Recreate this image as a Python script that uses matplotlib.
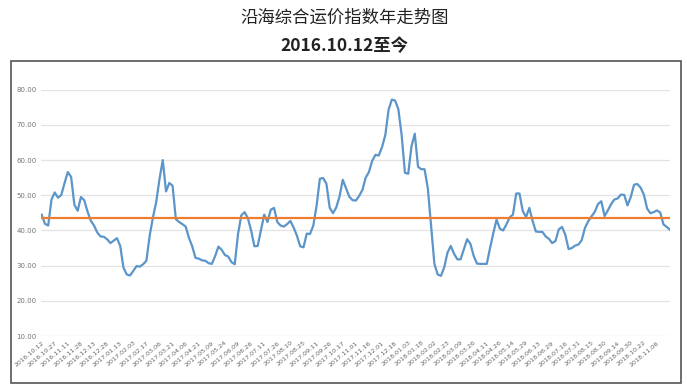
import matplotlib
matplotlib.use('Agg')
import matplotlib.pyplot as plt
from matplotlib.patches import Rectangle

plt.rcParams['font.family'] = ['Noto Sans CJK SC', 'DejaVu Sans']
plt.rcParams['axes.unicode_minus'] = False

title_1 = '沿海综合运价指数年走势图'
title_2 = '2016.10.12至今'

tick_labels = [
    '2016.10.12', '2016.10.27', '2016.11.11', '2016.11.28', '2016.12.13', '2016.12.28',
    '2017.01.13', '2017.02.03', '2017.02.17', '2017.03.06', '2017.03.21', '2017.04.06',
    '2017.04.21', '2017.05.09', '2017.05.24', '2017.06.09', '2017.06.26', '2017.07.11',
    '2017.07.26', '2017.08.10', '2017.08.25', '2017.09.11', '2017.09.26', '2017.10.17',
    '2017.11.01', '2017.11.16', '2017.12.01', '2017.12.18', '2018.01.03', '2018.01.18',
    '2018.02.02', '2018.02.23', '2018.03.09', '2018.03.26', '2018.04.11', '2018.04.26',
    '2018.05.14', '2018.05.29', '2018.06.13', '2018.06.29', '2018.07.16', '2018.07.31',
    '2018.08.15', '2018.08.30', '2018.09.14', '2018.09.30', '2018.10.22', '2018.11.06',
]

# index values, one per sample (4 samples between two tick labels)
index_2016 = [
    44.5, 41.9, 41.4, 48.8, 50.8, 49.3, 50.1, 53.5, 56.6, 55.2,
    47.3, 45.6, 49.5, 48.6, 45.4, 42.8, 41.4, 39.4, 38.3, 38.2,
    37.5, 36.4, 37.1, 37.8, 35.6,
]
index_2017 = [
    29.4, 27.5, 27.2, 28.5, 29.9, 29.7, 30.4, 31.4, 38.5, 43.7,
    48.1, 54.6, 60.0, 51.1, 53.5, 52.7, 43.2, 42.4, 41.8, 41.1,
    37.9, 35.5, 32.2, 32.0, 31.5, 31.4, 30.7, 30.5, 32.7, 35.4,
    34.5, 33.0, 32.6, 31.0, 30.4, 39.0, 44.3, 45.2, 43.5, 40.0,
    35.5, 35.6, 40.0, 44.5, 42.4, 45.9, 46.4, 42.4, 41.4, 41.1,
    41.8, 42.7, 40.8, 38.5, 35.5, 35.2, 39.1, 39.0, 41.4, 47.0,
    54.7, 54.9, 53.3, 46.5, 44.9, 46.5, 49.6, 54.4, 52.0, 49.6,
    48.6, 48.5, 49.8, 51.5, 55.0, 56.6, 59.8, 61.5, 61.3, 63.7,
    67.1, 74.3, 77.2, 76.9, 74.4, 67.0, 56.4, 56.1, 63.9, 67.5,
    58.1, 57.4, 57.4, 51.9,
]
index_2018 = [
    41.2, 30.5, 27.5, 27.1, 29.5, 33.7, 35.6, 33.4, 31.8, 31.8,
    34.7, 37.5, 36.2, 32.8, 30.6, 30.5, 30.5, 30.5, 35.0, 39.2,
    43.1, 40.5, 40.0, 41.7, 43.7, 44.5, 50.5, 50.5, 45.5, 43.8,
    46.4, 42.7, 39.7, 39.6, 39.6, 38.3, 37.6, 36.4, 37.0, 40.3,
    41.0, 38.8, 34.7, 35.0, 35.7, 36.0, 37.2, 40.7, 42.6, 44.0,
    45.3, 47.5, 48.3, 44.1, 45.7, 47.5, 48.8, 49.1, 50.2, 50.1,
    47.1, 49.5, 53.0, 53.2, 52.2, 50.2, 46.2, 44.9, 45.2, 45.7,
    45.1, 41.7, 41.0, 40.2,
]
values = index_2016 + index_2017 + index_2018
average = 43.65

y_ticks = [10, 20, 30, 40, 50, 60, 70, 80]

fig = plt.figure(figsize=(6.87, 3.89), dpi=100)

fig.text(0.502, 0.954, title_1, ha='center', va='center', fontsize=12.5,
         color='#222222')
fig.text(0.502, 0.882, title_2, ha='center', va='center', fontsize=12.5,
         fontweight='bold', color='#222222')

fig.add_artist(Rectangle((0.0153, 0.0154), 0.976, 0.8278, transform=fig.transFigure,
                         fill=False, edgecolor='#555555', linewidth=1.2))

ax = fig.add_axes([0.0597, 0.1362, 0.9156, 0.6332])
x = list(range(len(values)))
ax.plot(x, values, color='#5b95c9', linewidth=1.6, zorder=3)
ax.axhline(average, color='#ee7d2f', linewidth=1.6, zorder=4)

ax.set_ylim(10, 80)
ax.set_xlim(-0.2, len(values) - 1)
ax.set_yticks(y_ticks)
ax.set_yticklabels(['%.2f' % v for v in y_ticks], fontsize=5, color='#777777',
                   family='DejaVu Sans')
ax.set_xticks(range(0, 4 * len(tick_labels), 4))
ax.set_xticklabels(tick_labels, rotation=40, ha='right', rotation_mode='anchor',
                   fontsize=4.6, color='#666666', family='DejaVu Sans')
ax.tick_params(length=0, pad=3)
ax.grid(axis='y', color='#e3e3e3', linewidth=0.9)
for s in ax.spines.values():
    s.set_visible(False)

plt.savefig('out.png', dpi=100)
